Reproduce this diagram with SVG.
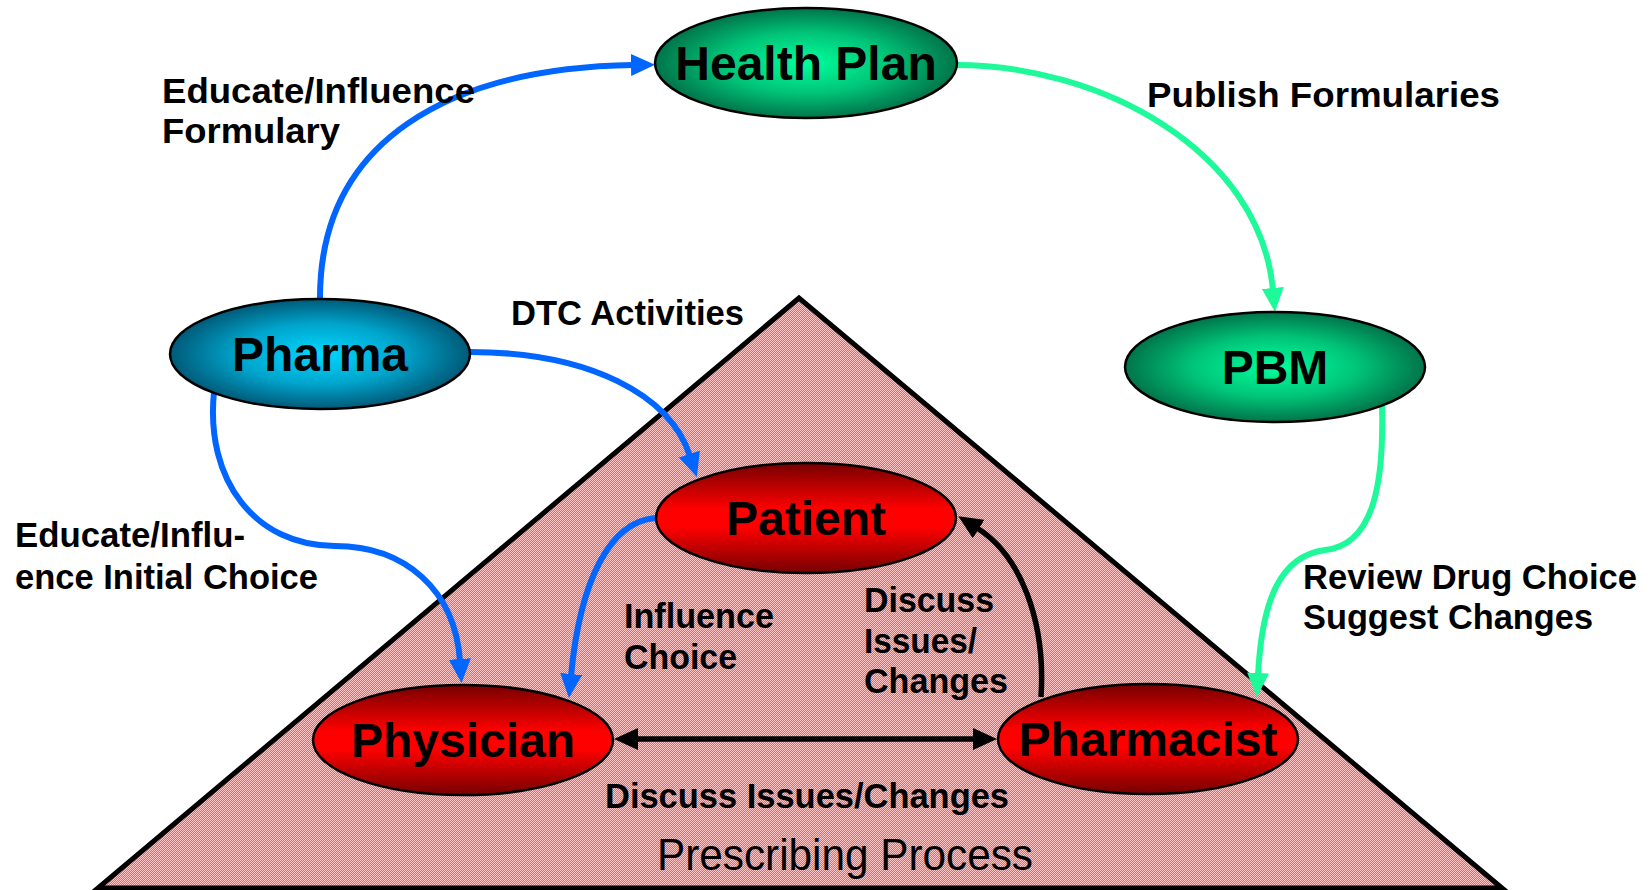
<svg xmlns="http://www.w3.org/2000/svg" width="1650" height="890" viewBox="0 0 1650 890">
<style>
.node-text{font-family:"Liberation Sans",Arial,sans-serif;font-weight:bold;font-size:48px;fill:#000;text-anchor:middle}
.lbl{font-family:"Liberation Sans",Arial,sans-serif;font-weight:bold;font-size:35px;fill:#000}
.title{font-family:"Liberation Sans Narrow","Liberation Sans",Arial,sans-serif;font-size:45px;fill:#000}
.ell{stroke:#000;stroke-width:2.5}
.blue{fill:none;stroke:#0066FF;stroke-width:6}
.green{fill:none;stroke:#1EFA9A;stroke-width:6}
.black{fill:none;stroke:#000;stroke-width:5.5}
</style>
<defs>
<radialGradient id="gGreen" cx="50%" cy="50%" r="50%">
<stop offset="0" stop-color="#00FF9C"/>
<stop offset="0.55" stop-color="#00C478"/>
<stop offset="1" stop-color="#00744A"/>
</radialGradient>
<radialGradient id="gBlue" cx="50%" cy="50%" r="50%">
<stop offset="0" stop-color="#00D8FF"/>
<stop offset="0.55" stop-color="#00A4CC"/>
<stop offset="1" stop-color="#005A78"/>
</radialGradient>
<linearGradient id="gRed" x1="0" y1="0" x2="0" y2="1">
<stop offset="0" stop-color="#760000"/>
<stop offset="0.42" stop-color="#FF0000"/>
<stop offset="0.58" stop-color="#FF0000"/>
<stop offset="1" stop-color="#760000"/>
</linearGradient>
<pattern id="dots" width="2" height="2" patternUnits="userSpaceOnUse">
<rect width="2" height="2" fill="#FF5C5C"/>
<rect width="1" height="1" fill="#FFC4C4"/>
<rect x="1" y="1" width="1" height="1" fill="#FFC4C4"/>
</pattern>
<marker id="aBlue" viewBox="0 0 24 22" markerWidth="24" markerHeight="22" refX="2" refY="11" markerUnits="userSpaceOnUse" orient="auto"><path d="M0,0 L24,11 L0,22 z" fill="#0066FF"/></marker>
<marker id="aGreen" viewBox="0 0 24 22" markerWidth="24" markerHeight="22" refX="2" refY="11" markerUnits="userSpaceOnUse" orient="auto"><path d="M0,0 L24,11 L0,22 z" fill="#1EFA9A"/></marker>
<marker id="aBlack" viewBox="0 0 24 22" markerWidth="24" markerHeight="22" refX="2" refY="11" markerUnits="userSpaceOnUse" orient="auto-start-reverse"><path d="M0,0 L24,11 L0,22 z" fill="#000"/></marker>
</defs>
<rect width="1650" height="890" fill="#fff"/>
<g id="prescribing-process">
<polygon points="799,298 98,888 1502,888" fill="url(#dots)" stroke="#000" stroke-width="5" stroke-linejoin="miter"/>
<text class="title" x="657" y="870" textLength="376" lengthAdjust="spacingAndGlyphs">Prescribing Process</text>
</g>
<g id="connectors">
<path class="blue" d="M320,298 C320,140 450,68 633,65" marker-end="url(#aBlue)"/>
<path class="blue" d="M470,352 C590,352 670,395 690,456" marker-end="url(#aBlue)"/>
<path class="blue" d="M214,392 C205,480 255,546 335,546 C405,546 455,590 460,661" marker-end="url(#aBlue)"/>
<path class="green" d="M956,65 C1100,65 1260,150 1273,290" marker-end="url(#aGreen)"/>
<path class="green" d="M1382,406 C1384,480 1375,545 1325,550 C1280,556 1262,600 1258,675" marker-end="url(#aGreen)"/>
<path class="blue" d="M655,518 C610,522 580,580 571,676" marker-end="url(#aBlue)"/>
<path class="black" d="M1041,697 C1046,620 1020,555 977,528" marker-end="url(#aBlack)"/>
<path class="black" d="M636,739 L975,739" marker-start="url(#aBlack)" marker-end="url(#aBlack)"/>
</g>
<g id="labels">
<text class="lbl" x="162" y="103" textLength="313" lengthAdjust="spacingAndGlyphs">Educate/Influence</text>
<text class="lbl" x="162" y="143" textLength="178" lengthAdjust="spacingAndGlyphs">Formulary</text>
<text class="lbl" x="1147" y="107" textLength="353" lengthAdjust="spacingAndGlyphs">Publish Formularies</text>
<text class="lbl" x="511" y="325" textLength="233" lengthAdjust="spacingAndGlyphs">DTC Activities</text>
<text class="lbl" x="15" y="547" textLength="230" lengthAdjust="spacingAndGlyphs">Educate/Influ-</text>
<text class="lbl" x="15" y="589" textLength="303" lengthAdjust="spacingAndGlyphs">ence Initial Choice</text>
<text class="lbl" x="624" y="628" textLength="150" lengthAdjust="spacingAndGlyphs">Influence</text>
<text class="lbl" x="624" y="669" textLength="113" lengthAdjust="spacingAndGlyphs">Choice</text>
<text class="lbl" x="864" y="612" textLength="130" lengthAdjust="spacingAndGlyphs">Discuss</text>
<text class="lbl" x="864" y="653" textLength="113" lengthAdjust="spacingAndGlyphs">Issues/</text>
<text class="lbl" x="864" y="693" textLength="144" lengthAdjust="spacingAndGlyphs">Changes</text>
<text class="lbl" x="1303" y="589" textLength="334" lengthAdjust="spacingAndGlyphs">Review Drug Choice</text>
<text class="lbl" x="1303" y="629" textLength="290" lengthAdjust="spacingAndGlyphs">Suggest Changes</text>
<text class="lbl" x="605" y="808" textLength="404" lengthAdjust="spacingAndGlyphs">Discuss Issues/Changes</text>
</g>
<g id="health-plan">
<ellipse class="ell" cx="806" cy="63" rx="151" ry="55" fill="url(#gGreen)"/>
<text class="node-text" x="806" y="80">Health Plan</text>
</g>
<g id="pharma">
<ellipse class="ell" cx="320" cy="354" rx="150" ry="55" fill="url(#gBlue)"/>
<text class="node-text" x="320" y="371">Pharma</text>
</g>
<g id="pbm">
<ellipse class="ell" cx="1275" cy="367" rx="150" ry="55" fill="url(#gGreen)"/>
<text class="node-text" x="1275" y="384">PBM</text>
</g>
<g id="patient">
<ellipse class="ell" cx="806" cy="518" rx="150" ry="55" fill="url(#gRed)"/>
<text class="node-text" x="806" y="535">Patient</text>
</g>
<g id="physician">
<ellipse class="ell" cx="463" cy="740" rx="150" ry="55" fill="url(#gRed)"/>
<text class="node-text" x="463" y="757">Physician</text>
</g>
<g id="pharmacist">
<ellipse class="ell" cx="1148" cy="739" rx="150" ry="55" fill="url(#gRed)"/>
<text class="node-text" x="1148" y="756">Pharmacist</text>
</g>
</svg>
